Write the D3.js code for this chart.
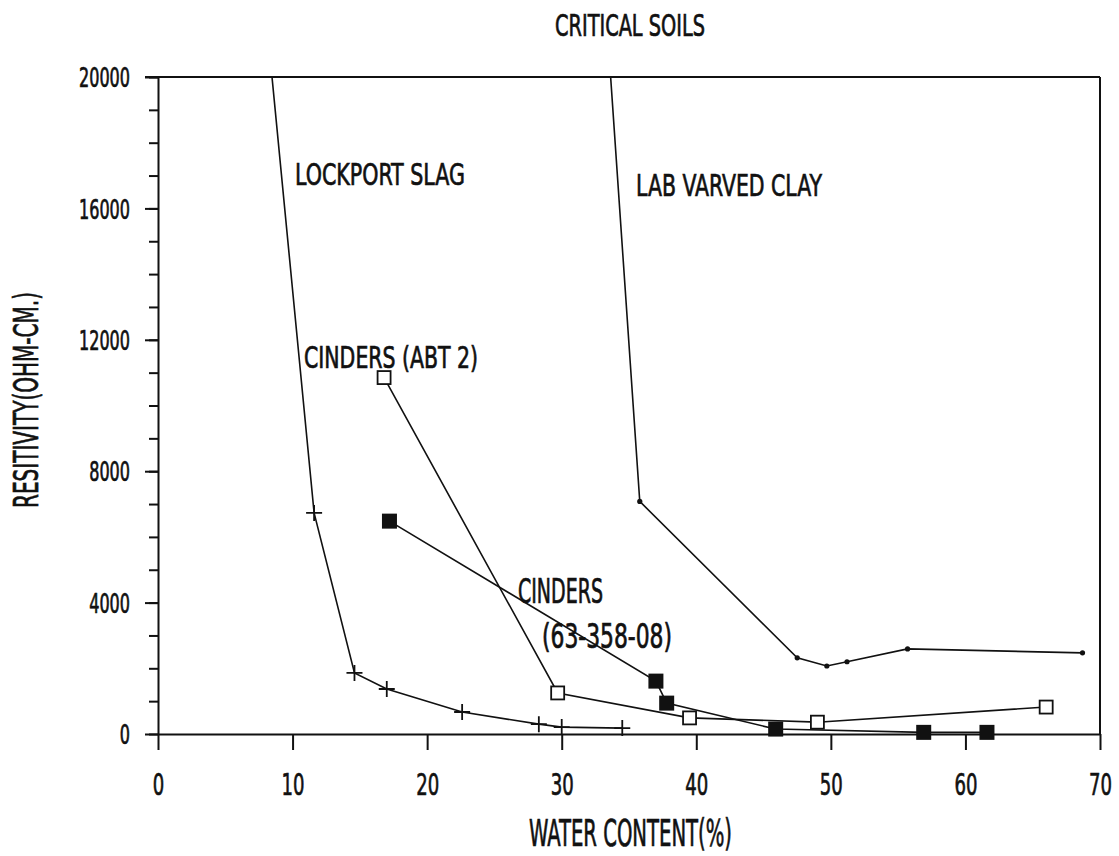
<!DOCTYPE html>
<html lang="en">
<head>
    <meta charset="UTF-8">
    <title>Critical Soils</title>
    <script type="text/javascript" src="https://d3js.org/d3.v7.min.js"></script>
    <style>
        body { margin: 0; background: #fff; }
        text { font-family: "Liberation Sans Narrow", "DejaVu Sans Condensed", "Arial Narrow", sans-serif; fill: #111; stroke: #111; stroke-width: 0.7; }
        .domain, .tick line { stroke: #111; stroke-width: 2; }
        .series { fill: none; stroke: #111; stroke-width: 1.6; }
    </style>
</head>
<body>
    <div id="chart"></div>

    <script type="text/javascript">

        // water content (%) and resistivity (ohm-cm)
        var slagX   = [8.0, 11.6, 14.6, 17.0, 22.6, 28.3, 30.0, 34.5];
        var slagY   = [22000, 6730, 1860, 1370, 670, 300, 210, 180];

        var abt2X   = [16.8, 29.7, 39.5, 49.0, 66.0];
        var abt2Y   = [10850, 1250, 490, 360, 820];

        var cindX   = [17.2, 37.0, 37.8, 45.9, 56.9, 61.6];
        var cindY   = [6480, 1610, 940, 150, 50, 50];

        var clayX   = [33.3, 35.8, 47.5, 49.7, 51.2, 55.7, 68.7];
        var clayY   = [22000, 7080, 2320, 2070, 2200, 2590, 2470];

        var xTicks = [0, 10, 20, 30, 40, 50, 60, 70];
        var yTicks = [0, 4000, 8000, 12000, 16000, 20000];

        var W = 1119, H = 856;
        var pLeft = 158, pRight = 1100, pTop = 77, pBottom = 734;

        var svg = d3.select("#chart")
            .append("svg")
            .attr("width", W)
            .attr("height", H);

        var x = d3.scaleLinear().domain([0, 70]).range([pLeft, pRight]);
        var y = d3.scaleLinear().domain([0, 20000]).range([pBottom, pTop]);

        function pts(xs, ys) {
            return xs.map(function(v, i) { return [v, ys[i]]; });
        }

        svg.append("clipPath").attr("id", "plot")
            .append("rect")
            .attr("x", pLeft - 20).attr("y", pTop)
            .attr("width", pRight - pLeft + 40).attr("height", pBottom - pTop + 20);

        // frame: top and right edges
        svg.append("line")
            .attr("x1", x(0) - 13).attr("x2", x(70))
            .attr("y1", y(20000)).attr("y2", y(20000))
            .attr("stroke", "#111").attr("stroke-width", 2);
        svg.append("line")
            .attr("x1", x(70)).attr("x2", x(70))
            .attr("y1", y(20000)).attr("y2", y(0))
            .attr("stroke", "#111").attr("stroke-width", 2);

        // y axis, minor then major
        svg.append("g")
            .attr("transform", "translate(" + pLeft + ",0)")
            .call(d3.axisLeft(y).tickValues(d3.range(0, 20001, 1000)).tickSize(9).tickFormat(""))
            .select(".domain").remove();

        var yAxis = svg.append("g")
            .attr("transform", "translate(" + pLeft + ",0)")
            .call(d3.axisLeft(y).tickValues(yTicks).tickSize(13).tickPadding(15).tickSizeOuter(0).tickFormat(d3.format("d")));
        yAxis.selectAll("text")
            .attr("font-size", 27)
            .attr("dy", "0.36em")
            .attr("textLength", function(d) { return String(d).length * 10.2; })
            .attr("lengthAdjust", "spacingAndGlyphs");

        var xAxis = svg.append("g")
            .attr("transform", "translate(0," + pBottom + ")")
            .call(d3.axisBottom(x).tickValues(xTicks).tickSize(16).tickSizeOuter(0));
        xAxis.selectAll("text")
            .attr("font-size", 31)
            .attr("y", 61)
            .attr("dy", 0)
            .attr("textLength", function(d) { return String(d).length * 11.5; })
            .attr("lengthAdjust", "spacingAndGlyphs");

        var line = d3.line()
            .x(function(d) { return x(d[0]); })
            .y(function(d) { return y(d[1]); });

        var g = svg.append("g").attr("clip-path", "url(#plot)");

        var slag = pts(slagX, slagY), abt2 = pts(abt2X, abt2Y),
            cind = pts(cindX, cindY), clay = pts(clayX, clayY);

        [slag, abt2, cind, clay].forEach(function(s) {
            g.append("path").attr("class", "series").attr("d", line(s));
        });

        // plus markers
        g.selectAll(".plus")
            .data(slag.filter(function(d) { return d[1] <= 20000; }))
            .enter()
            .append("path")
            .attr("d", function(d) {
                var cx = x(d[0]), cy = y(d[1]);
                return "M" + (cx - 8) + "," + cy + "H" + (cx + 8) + "M" + cx + "," + (cy - 8) + "V" + (cy + 8);
            })
            .attr("stroke", "#111").attr("stroke-width", 1.8);

        // open squares
        g.selectAll(".open")
            .data(abt2)
            .enter()
            .append("rect")
            .attr("x", function(d) { return x(d[0]) - 6.5; })
            .attr("y", function(d) { return y(d[1]) - 6.5; })
            .attr("width", 13).attr("height", 13)
            .attr("fill", "#fff").attr("stroke", "#111").attr("stroke-width", 1.8);

        // filled squares
        g.selectAll(".filled")
            .data(cind)
            .enter()
            .append("rect")
            .attr("x", function(d) { return x(d[0]) - 7.5; })
            .attr("y", function(d) { return y(d[1]) - 7.5; })
            .attr("width", 15).attr("height", 15)
            .attr("fill", "#111");

        // dots
        g.selectAll(".dot")
            .data(clay.filter(function(d) { return d[1] <= 20000; }))
            .enter()
            .append("circle")
            .attr("cx", function(d) { return x(d[0]); })
            .attr("cy", function(d) { return y(d[1]); })
            .attr("r", 2.6)
            .attr("fill", "#111");

        // labels
        function label(t, px, py, len, size) {
            svg.append("text")
                .attr("x", px).attr("y", py)
                .attr("font-size", size)
                .attr("textLength", len)
                .attr("lengthAdjust", "spacingAndGlyphs")
                .text(t);
        }
        label("CRITICAL SOILS", 555, 36, 150, 31);
        label("LOCKPORT SLAG", 295, 185, 170, 31);
        label("LAB VARVED CLAY", 636, 196, 186, 31);
        label("CINDERS (ABT 2)", 304, 368, 174, 31);
        label("CINDERS", 518, 603, 85, 33);
        label("(63-358-08)", 542, 648, 130, 33);
        label("WATER CONTENT(%)", 529, 846, 203, 37);

        svg.append("text")
            .attr("transform", "translate(38,400) rotate(-90)")
            .attr("text-anchor", "middle")
            .attr("font-size", 33)
            .attr("textLength", 216)
            .attr("lengthAdjust", "spacingAndGlyphs")
            .text("RESITIVITY(OHM-CM.)");
    </script>
</body>
</html>
